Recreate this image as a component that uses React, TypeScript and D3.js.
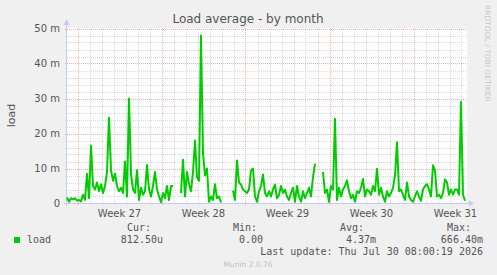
import React from "react";
import * as d3 from "d3";

// ---- data ----
const startTime = new Date(Date.UTC(2026, 5, 28, 3, 0, 0)); // first sample
const endTime = new Date(Date.UTC(2026, 6, 31, 11, 0, 0));
const stepHours = 4;
// load average in milli-units, one value per 4 hours (null = no data)
const loadValues: (number | null)[] = [
  1.7, 0.5, 1.5, 1.2, 1.5, 0.8, 1.0, 0.6, 2.5, 1.0,
  8.5, 1.5, 16.5, 5.0, 4.0, 6.0, 3.5, 5.5, 3.0, 5.0,
  9.0, 24.5, 9.5, 6.5, 8.5, 5.0, 3.5, 4.5, 3.0, 12.0,
  2.0, 30.0, 8.5, 4.0, 3.0, 9.5, 1.0, 4.5, 2.5, 3.5,
  11.0, 4.0, 2.0, 5.0, 9.0, 4.0, 2.0, 0.4, 3.0, 1.5,
  5.0, 1.0, 5.0, 5.0, null, null, null, 3.0, 12.5, 2.0,
  9.0, 5.5, 3.5, 9.0, 18.0, 7.5, 6.5, 48.0, 14.3, 8.0,
  10.0, 0.5, 2.0, 1.0, 5.5, 1.5, 2.0, 0.3, null, null,
  null, null, null, 3.7, 1.0, 12.3, 6.0, 5.4, 4.0, 3.5,
  3.0, 4.0, 9.4, 10.0, 2.0, 0.5, 3.5, 5.0, 8.3, 3.0,
  2.0, 3.5, 2.0, 4.0, 5.4, 1.5, 2.5, 5.0, 3.0, 4.0,
  2.0, 1.0, 3.0, 4.5, 0.5, 5.0, 2.0, 0.5, 3.5, 1.5,
  3.0, 4.5, 2.0, 7.5, 11.4, null, null, null, 9.0, 3.0,
  4.0, 0.5, 5.0, 4.0, 24.2, 1.0, 4.5, 2.0, 4.0, 5.0,
  6.6, 3.5, 1.5, 2.5, 0.5, 3.5, 3.0, 4.5, 7.0, 2.0,
  4.0, 3.5, 2.5, 5.0, 3.5, 9.9, 2.5, 4.5, 2.0, 0.5,
  3.5, 2.0, 3.0, 4.5, 8.0, 17.5, 3.5, 4.0, 2.5, 1.0,
  6.0, 2.0, 1.0, 0.5, 2.0, 3.5, 2.0, 0.8, 4.0, 5.0,
  5.5, 4.0, 2.0, 10.9, 9.4, 2.0, 2.5, 1.5, 3.0, 6.9,
  6.0, 2.5, 4.0, 2.5, 4.0, 4.0, 2.5, 29.0, 2.5, 0.8,
];
const yTickValues = [0, 10, 20, 30, 40, 50];
const yTickLabels = ["0", "10 m", "20 m", "30 m", "40 m", "50 m"];
const weekLabels = ["Week 27", "Week 28", "Week 29", "Week 30", "Week 31"];
const legendHeaders = ["Cur:", "Min:", "Avg:", "Max:"];
const legendValues = ["812.50u", "0.00", "4.37m", "666.40m"];

const W = 497;
const H = 275;
const L = 67;
const R = 467;
const T = 28;
const B = 203;

export default function App() {
  const x = d3.scaleUtc().domain([startTime, endTime]).range([L, R]);
  const y = d3.scaleLinear().domain([0, 50]).range([B + 0.5, T + 0.5]);

  const points = loadValues.map((v, i) => ({
    t: new Date(startTime.getTime() + i * stepHours * 3600 * 1000),
    v,
  }));
  const line = d3
    .line<{ t: Date; v: number | null }>()
    .defined((d) => d.v !== null)
    .x((d) => x(d.t))
    .y((d) => y(d.v as number));

  const days = d3.utcDay.range(startTime, endTime);
  const mondays = d3.utcMonday.range(startTime, endTime);
  const minorDays = days.filter((d) => d.getUTCDay() !== 1);
  const yMinor = d3.range(0, 51, 2).filter((v) => v % 10 !== 0);

  const font = "'DejaVu Sans', sans-serif";
  const mono = "'DejaVu Sans Mono', monospace";
  const txt = "#555";
  const axisCol = "#c8c8f4";
  const minorCol = "#dadada";
  const majorCol = "#f0b4b4";

  const headerRight = [151, 257, 364, 471];
  const valueRight = [163, 263, 376, 483];

  return (
    <svg
      width={W}
      height={H}
      style={{ position: "absolute", left: 0, top: 0, display: "block" }}
    >
      <rect x={0} y={0} width={W} height={H} fill="#f0f0f0" />
      <rect x={L} y={T} width={R - L} height={B - T} fill="#ffffff" />

      {/* minor grid */}
      {minorDays.map((d, i) => (
        <line
          key={"vd" + i}
          x1={Math.round(x(d)) + 0.5}
          x2={Math.round(x(d)) + 0.5}
          y1={T}
          y2={B}
          stroke={minorCol}
          strokeDasharray="1,1"
        />
      ))}
      {yMinor.map((v) => (
        <line
          key={"hm" + v}
          x1={L}
          x2={R}
          y1={Math.round(y(v)) + 0.5}
          y2={Math.round(y(v)) + 0.5}
          stroke={minorCol}
          strokeDasharray="1,1"
        />
      ))}
      {/* major grid */}
      {mondays.map((d, i) => (
        <line
          key={"vM" + i}
          x1={Math.round(x(d)) + 0.5}
          x2={Math.round(x(d)) + 0.5}
          y1={T}
          y2={B + 3}
          stroke={majorCol}
          strokeDasharray="1,1"
        />
      ))}
      {yTickValues
        .filter((v) => v > 0)
        .map((v) => (
          <line
            key={"hM" + v}
            x1={L - 2}
            x2={R}
            y1={Math.round(y(v)) + 0.5}
            y2={Math.round(y(v)) + 0.5}
            stroke={majorCol}
            strokeDasharray="1,1"
          />
        ))}

      {/* axes */}
      <line x1={L - 0.5} x2={L - 0.5} y1={B + 3} y2={22} stroke={axisCol} />
      <path d={`M${L - 3.5},${25} L${L - 0.5},${19} L${L + 2.5},${25} Z`} fill={axisCol} />
      <line x1={L - 3} x2={R + 3} y1={B + 0.5} y2={B + 0.5} stroke={axisCol} />
      <path d={`M${R + 2},${B - 2.5} L${R + 7},${B + 0.5} L${R + 2},${B + 3.5} Z`} fill={axisCol} />

      {/* data */}
      <path d={line(points) || ""} fill="none" stroke="#00cc00" strokeWidth={2} strokeLinejoin="round" />

      {/* y labels */}
      {yTickValues.map((v, i) => (
        <text
          key={"yl" + v}
          x={60}
          y={y(v)}
          dy="0.35em"
          textAnchor="end"
          fontFamily={font}
          fontSize={10}
          fill={txt}
        >
          {yTickLabels[i]}
        </text>
      ))}
      {/* x labels */}
      {mondays.map((d, i) => (
        <text
          key={"xl" + i}
          x={x(new Date(d.getTime() + 3.5 * 86400000))}
          y={217}
          textAnchor="middle"
          fontFamily={font}
          fontSize={10}
          fill={txt}
        >
          {weekLabels[i]}
        </text>
      ))}

      {/* title */}
      <text x={248} y={23} textAnchor="middle" fontFamily={font} fontSize={12} fill={txt}>
        Load average - by month
      </text>
      {/* y axis title */}
      <text
        transform={`translate(15,${(T + B) / 2}) rotate(-90)`}
        textAnchor="middle"
        fontFamily={font}
        fontSize={11}
        fill={txt}
      >
        load
      </text>
      {/* watermark */}
      <text
        transform={`translate(485,${5}) rotate(90)`}
        textAnchor="start"
        fontFamily={font}
        fontSize={7.5}
        fill="#c8c8c8"
      >
        RRDTOOL / TOBI OETIKER
      </text>

      {/* legend */}
      {legendHeaders.map((h, i) => (
        <text key={"lh" + i} x={headerRight[i]} y={231} textAnchor="end" fontFamily={mono} fontSize={10} fill={txt}>
          {h}
        </text>
      ))}
      <rect x={14} y={237} width={6} height={6} fill="#00cc00" />
      <text x={27} y={243} fontFamily={mono} fontSize={10} fill={txt}>
        load
      </text>
      {legendValues.map((v, i) => (
        <text key={"lv" + i} x={valueRight[i]} y={243} textAnchor="end" fontFamily={mono} fontSize={10} fill={txt}>
          {v}
        </text>
      ))}
      <text x={483} y={255} textAnchor="end" fontFamily={mono} fontSize={10} fill={txt}>
        Last update: Thu Jul 30 08:00:19 2026
      </text>
      <text x={248} y={267} textAnchor="middle" fontFamily={font} fontSize={7.5} fill="#c0c0c0">
        Munin 2.0.76
      </text>
    </svg>
  );
}
